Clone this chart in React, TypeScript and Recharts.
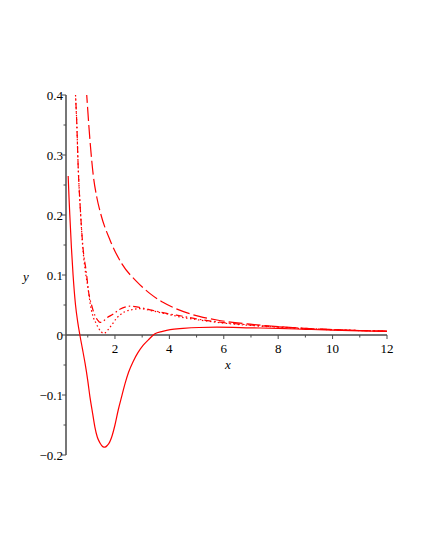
import React from 'react';
import { LineChart, Line, XAxis, YAxis, ReferenceLine, Label } from 'recharts';

// values
const solidCurve = [
  [0.28, 0.265], [0.31, 0.23], [0.34, 0.2], [0.4, 0.145], [0.46, 0.1], [0.55, 0.05],
  [0.63, 0.022], [0.71, 0], [0.8, -0.022], [0.9, -0.047], [1.0, -0.076], [1.08, -0.103],
  [1.18, -0.131], [1.26, -0.153], [1.35, -0.17], [1.45, -0.18], [1.55, -0.186], [1.63, -0.187],
  [1.72, -0.184], [1.8, -0.179], [1.88, -0.17], [2.0, -0.15], [2.12, -0.125], [2.25, -0.102],
  [2.37, -0.081], [2.5, -0.062], [2.67, -0.044], [2.85, -0.029], [3.04, -0.017], [3.25, -0.007],
  [3.47, 0.002], [3.75, 0.006], [4.03, 0.009], [4.5, 0.011], [5.1, 0.0125], [5.75, 0.013],
  [6.97, 0.012], [8, 0.011], [9, 0.0095], [10, 0.008], [11, 0.007], [12, 0.006],
];

const longDashCurve = [
  [0.9, 0.44], [0.96, 0.401], [1.08, 0.325], [1.2, 0.267], [1.33, 0.23], [1.47, 0.203],
  [1.82, 0.158], [2.25, 0.119], [2.8, 0.089], [3.29, 0.069], [3.78, 0.054], [4.52, 0.039],
  [5.1, 0.031], [5.75, 0.025], [6.97, 0.018], [8, 0.014], [9, 0.011], [10, 0.009],
  [11, 0.0075], [12, 0.0065],
];

const dashDotCurve = [
  [0.5, 0.46], [0.55, 0.4], [0.59, 0.361], [0.65, 0.278], [0.74, 0.2], [0.81, 0.153],
  [0.96, 0.1], [1.02, 0.075], [1.14, 0.05], [1.26, 0.033], [1.36, 0.025], [1.45, 0.021],
  [1.57, 0.023], [1.69, 0.028], [1.94, 0.035], [2.18, 0.043], [2.4, 0.047], [2.55, 0.048],
  [2.8, 0.047], [3.0, 0.045], [3.29, 0.042], [3.9, 0.036], [4.52, 0.031], [5.1, 0.026],
  [5.75, 0.022], [6.97, 0.0167], [8, 0.0135], [9, 0.011], [10, 0.009], [11, 0.0075],
  [12, 0.0065],
];

const dottedCurve = [
  [0.5, 0.46], [0.55, 0.4], [0.59, 0.36], [0.65, 0.278], [0.74, 0.2], [0.81, 0.15],
  [0.9, 0.11], [1.02, 0.1 - 0.025], [1.08, 0.055], [1.2, 0.03], [1.3, 0.02], [1.39, 0.012],
  [1.5, 0.005], [1.57, 0.003], [1.65, 0.004], [1.75, 0.009], [1.9, 0.018], [2.06, 0.028],
  [2.2, 0.034], [2.37, 0.039], [2.6, 0.042], [2.92, 0.044], [3.29, 0.041], [3.9, 0.035],
  [4.52, 0.029], [5.1, 0.025], [5.75, 0.021], [6.97, 0.016], [8, 0.013], [9, 0.0105],
  [10, 0.0088], [11, 0.0074], [12, 0.0063],
];

const xTicks = [1, 2, 3, 4, 5, 6, 7, 8, 9, 10, 11, 12];
const yTicks = [-0.2, -0.15, -0.1, -0.05, 0, 0.05, 0.1, 0.15, 0.2, 0.25, 0.3, 0.35, 0.4];

const X_DOMAIN = [0.2, 12];
const Y_DOMAIN = [-0.2, 0.4];

const W = 425;
const H = 550;
const M = { top: 95, right: 38, bottom: 65, left: 16 };
const Y_AXIS_W = 50;
const X_AXIS_H = 30;
const PLOT_H = H - M.top - M.bottom - X_AXIS_H;
// distance from the plot bottom up to y = 0, where the x axis sits
const ZERO_UP = (PLOT_H * (0 - Y_DOMAIN[0])) / (Y_DOMAIN[1] - Y_DOMAIN[0]);

const FONT = "'Liberation Serif', 'Times New Roman', serif";
const AXIS = '#4a4a4a';
const RED = '#ff0000';
const textStyle = { fontFamily: FONT, fontSize: 13 };

const toPoints = (arr: number[][]) => arr.map(([x, y]) => ({ x, y }));

function XTick({ x, y, payload }: any) {
  const v = payload.value;
  const major = v % 2 === 0;
  const y0 = y - ZERO_UP;
  return (
    <g>
      <line x1={x} x2={x} y1={y0} y2={y0 + (major ? 4 : 2.5)} stroke={AXIS} strokeWidth={1} />
      {major && (
        <text x={x} y={y0 + 18} textAnchor="middle" style={textStyle} fill="#000">
          {v}
        </text>
      )}
    </g>
  );
}

function YTick({ x, y, payload }: any) {
  const v = payload.value;
  const major = Math.abs(v * 10 - Math.round(v * 10)) < 1e-6;
  const label = v < 0 ? '\u2212' + Math.abs(v).toString() : v.toString();
  return (
    <g>
      <line x1={x - (major ? 4 : 2.5)} x2={x} y1={y} y2={y} stroke={AXIS} strokeWidth={1} />
      {major && (
        <text x={x - 3} y={y + 4.5} textAnchor="end" style={textStyle} fill="#000">
          {label}
        </text>
      )}
    </g>
  );
}

export default function App() {
  return (
    <div style={{ position: 'absolute', left: 0, top: 0, width: W, height: H, background: '#fff' }}>
      <LineChart width={W} height={H} margin={M}>
        <XAxis
          type="number"
          dataKey="x"
          domain={X_DOMAIN}
          ticks={xTicks}
          allowDataOverflow
          height={X_AXIS_H}
          axisLine={false}
          tickLine={false}
          tickSize={0}
          tickMargin={0}
          tick={<XTick />}
          interval={0}
        >
          <Label
            content={({ viewBox }: any) => (
              <text
                x={viewBox.x + 162}
                y={viewBox.y - 86}
                textAnchor="middle"
                style={{ ...textStyle, fontStyle: 'italic' }}
                fill="#000"
              >
                x
              </text>
            )}
          />
        </XAxis>
        <YAxis
          type="number"
          domain={Y_DOMAIN}
          ticks={yTicks}
          allowDataOverflow
          width={Y_AXIS_W}
          axisLine={{ stroke: AXIS, strokeWidth: 1.5 }}
          tickLine={false}
          tickSize={0}
          tickMargin={0}
          tick={<YTick />}
          interval={0}
        >
          <Label
            content={({ viewBox }: any) => (
              <text
                x={viewBox.x + 10}
                y={viewBox.y + 186}
                textAnchor="middle"
                style={{ ...textStyle, fontStyle: 'italic' }}
                fill="#000"
              >
                y
              </text>
            )}
          />
        </YAxis>
        <ReferenceLine y={0} stroke={AXIS} strokeWidth={1.5} />
        <Line
          data={toPoints(solidCurve)}
          dataKey="y"
          type="monotone"
          stroke={RED}
          strokeWidth={1.2}
          dot={false}
          isAnimationActive={false}
        />
        <Line
          data={toPoints(longDashCurve)}
          dataKey="y"
          type="monotone"
          stroke={RED}
          strokeWidth={1.2}
          strokeDasharray="14 4"
          dot={false}
          isAnimationActive={false}
        />
        <Line
          data={toPoints(dashDotCurve)}
          dataKey="y"
          type="monotone"
          stroke={RED}
          strokeWidth={1.2}
          strokeDasharray="7 3 1.5 3"
          dot={false}
          isAnimationActive={false}
        />
        <Line
          data={toPoints(dottedCurve)}
          dataKey="y"
          type="monotone"
          stroke={RED}
          strokeWidth={1.2}
          strokeDasharray="1.5 2.5"
          dot={false}
          isAnimationActive={false}
        />
      </LineChart>
    </div>
  );
}
